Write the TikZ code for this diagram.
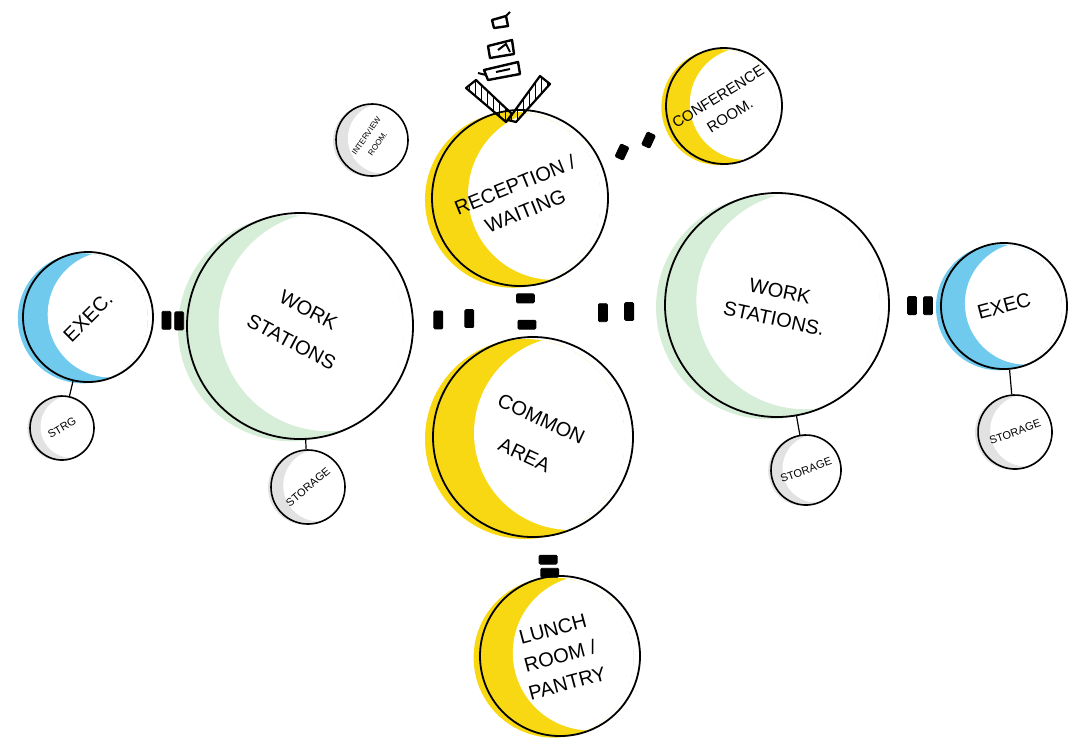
\documentclass[tikz,border=0pt]{standalone}
\usepackage{fontspec}
\setmainfont{Liberation Sans}
\usetikzlibrary{calc}
\usetikzlibrary{patterns}
\definecolor{mkyellow}{RGB}{247,216,18}
\definecolor{mkgreen}{RGB}{214,237,216}
\definecolor{mkblue}{RGB}{112,202,238}
\definecolor{mkgray}{RGB}{226,226,226}
\pgfdeclarelayer{background}
\pgfsetlayers{background,main}
\tikzset{bubble/.style={circle,draw=black,line width=0.9pt,inner sep=0pt,align=center,font=\fontsize{10}{14}\selectfont}}
\tikzset{smallbubble/.style={bubble,line width=0.8pt,font=\fontsize{5.5}{7}\selectfont}}
\tikzset{door/.style={rectangle,draw=black,fill=black,minimum width=4.5pt,minimum height=9pt,inner sep=0pt,rounded corners=0.6pt}}
\tikzset{link/.style={black,line width=0.6pt}}
\tikzset{entry/.style={draw=black,line width=1.1pt,line join=round,pattern=vertical lines}}
\tikzset{entrymark/.style={draw=black,line width=1.2pt,line join=round,fill=white}}

\begin{document}
\begin{tikzpicture}[x=0.5pt,y=-0.5pt]
  \useasboundingbox (0,0) rectangle (1068,741);

  % Bubbles
  \node[bubble,minimum size=88pt,rotate=22] (recep) at (520,198) {RECEPTION /\\WAITING};
  \node[bubble,minimum size=58pt,rotate=32,font=\fontsize{7.5}{11}\selectfont] (conf) at (724,106) {CONFERENCE\\ROOM.};
  \node[smallbubble,minimum size=36pt,rotate=55,font=\fontsize{4}{7}\selectfont] (intv) at (372,140) {INTERVIEW\\ROOM.};
  \node[bubble,minimum size=113pt,rotate=-28] (ws1) at (300,326) {WORK\\[4pt]STATIONS};
  \node[bubble,minimum size=65pt,rotate=45] (exec1) at (88,317) {EXEC.};
  \node[smallbubble,minimum size=32pt,rotate=30] (strg1) at (62,428) {STRG};
  \node[smallbubble,minimum size=37pt,rotate=40] (strg2) at (308,487) {STORAGE};
  \node[bubble,minimum size=100pt,rotate=-25] (common) at (533,437) {COMMON\\[6pt]AREA};
  \node[bubble,minimum size=80pt,rotate=15] (lunch) at (560,656) {LUNCH\\ROOM /\\PANTRY};
  \node[bubble,minimum size=112pt,rotate=-12] (ws2) at (777,305) {WORK\\STATIONS.};
  \node[bubble,minimum size=63pt,rotate=15] (exec2) at (1004,306) {EXEC};
  \node[smallbubble,minimum size=35pt,rotate=20] (strg3) at (806,470) {STORAGE};
  \node[smallbubble,minimum size=37pt,rotate=20] (strg4) at (1015,432) {STORAGE};

  % Marker shading
  \begin{pgfonlayer}{background}
    \foreach \n/\r/\s/\col in {recep/88/0.38/mkyellow,conf/58/0.38/mkyellow,common/100/0.38/mkyellow,lunch/80/0.38/mkyellow,
      ws1/113/0.25/mkgreen,ws2/112/0.25/mkgreen,exec1/65/0.35/mkblue,exec2/63/0.35/mkblue,
      intv/36/0.3/mkgray,strg1/32/0.3/mkgray,strg2/37/0.3/mkgray,strg3/35/0.3/mkgray,strg4/37/0.3/mkgray}
    {
      \begin{scope}
        \clip ($(\n.center)+(-0.08*\r,0.02*\r)$) circle ({1.0*\r});
        \fill[\col] ($(\n.center)+(-0.08*\r,0.02*\r)$) circle ({1.0*\r});
        \fill[white] ($(\n.center)+(\s*\r,-0.04*\r)$) circle ({0.97*\r});
      \end{scope}
    }
  \end{pgfonlayer}

  % Storage links
  \draw[link] (exec1) -- (strg1);
  \draw[link] (ws1) -- (strg2);
  \draw[link] (ws2) -- (strg3);
  \draw[link] (exec2) -- (strg4);

  % Doors
  \node[door] (d1) at ($(exec1)!0.37!(ws1)$) {};
  \node[door] (d2) at ($(exec1)!0.43!(ws1)$) {};
  \node[door] (d3) at ($(ws1)!0.29!(ws2)$) {};
  \node[door] (d4) at ($(ws1)!0.355!(ws2)$) {};
  \node[door] (d5) at ($(ws1)!0.635!(ws2)$) {};
  \node[door] (d6) at ($(ws1)!0.69!(ws2)$) {};
  \node[door,rotate=90] (d7) at ($(recep)!0.42!(common)$) {};
  \node[door,rotate=90] (d8) at ($(recep)!0.53!(common)$) {};
  \node[door] (d9) at ($(ws2)!0.595!(exec2)$) {};
  \node[door] (d10) at ($(ws2)!0.665!(exec2)$) {};
  \node[door,rotate=-25,minimum height=7pt] (d11) at ($(recep)!0.5!(conf)$) {};
  \node[door,rotate=-25,minimum height=7pt] (d12) at ($(recep)!0.63!(conf)$) {};
  \node[door,rotate=90] (d13) at ($(common)!0.56!(lunch)$) {};
  \node[door,rotate=90] (d14) at ($(common)!0.62!(lunch)$) {};

  % Entrance
  \begin{scope}[shift={(510,120)}]
    \draw[entry] (-44,-32) -- (-34,-40) -- (2,-6) -- (-4,2) -- cycle;
    \draw[entry] (-2,0) -- (30,-44) -- (40,-36) -- (6,2) -- cycle;
    \draw[entrymark] (-26,-50) -- (8,-58) -- (10,-46) -- (-22,-40) -- cycle;
    \draw[line width=1pt] (-32,-47) -- (-24,-45) (-14,-48) -- (0,-51);
    \draw[entrymark] (-22,-74) -- (2,-80) -- (4,-66) -- (-20,-62) -- cycle;
    \draw[line width=1pt] (-12,-70) -- (-4,-76) -- (0,-68);
    \draw[entrymark] (-18,-100) -- (-4,-104) -- (-2,-94) -- (-16,-92) -- cycle;
    \draw[line width=1pt] (-4,-104) -- (0,-108);
  \end{scope}
\end{tikzpicture}
\end{document}
